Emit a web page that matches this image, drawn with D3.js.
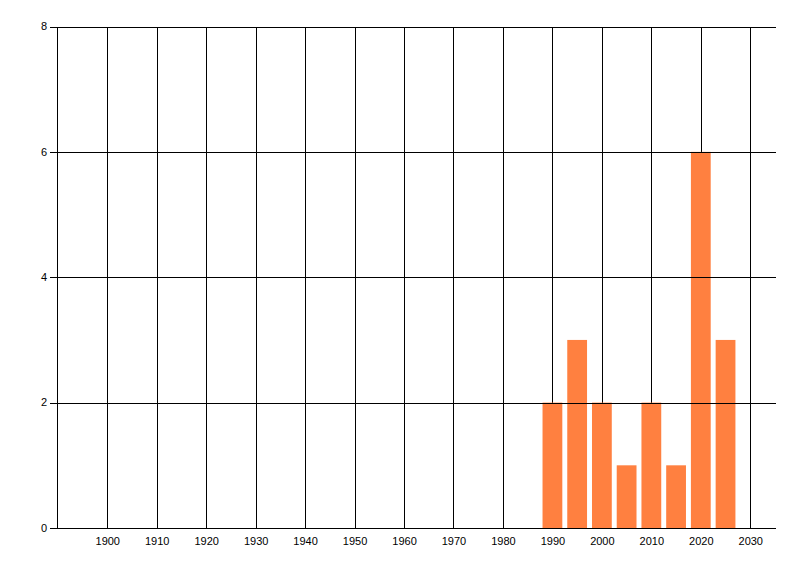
<!DOCTYPE html>
<html><head><meta charset="utf-8">
<script src="https://cdn.jsdelivr.net/npm/d3@7"></script>
<style>body{margin:0;background:#fff}svg{display:block}text{font-family:"Liberation Sans",Arial,sans-serif;font-size:11px;fill:#000}</style>
</head><body>
<svg id="c" width="800" height="576"></svg>
<script>
const years = [1990, 1995, 2000, 2005, 2010, 2015, 2020, 2025];
const counts = [2, 3, 2, 1, 2, 1, 6, 3];
const xTicks = [1900,1910,1920,1930,1940,1950,1960,1970,1980,1990,2000,2010,2020,2030];
const yTicks = [0, 2, 4, 6, 8];

const svg = d3.select("#c");
const x = d3.scaleLinear().domain([1890, 2035]).range([57.8, 775]);
const y = d3.scaleLinear().domain([0, 8]).range([528, 26.5]);

// vertical grid
svg.append("g").selectAll("line").data(xTicks).join("line")
  .attr("x1", d => Math.round(x(d)) + 0.5).attr("x2", d => Math.round(x(d)) + 0.5)
  .attr("y1", Math.round(y(8)) + 0.5).attr("y2", Math.round(y(0)) + 0.5)
  .attr("stroke", "#000");
// left axis line
svg.append("line").attr("x1", 57.5).attr("x2", 57.5)
  .attr("y1", Math.round(y(8)) + 0.5).attr("y2", Math.round(y(0)) + 0.5).attr("stroke", "#000");

// bars
svg.append("g").selectAll("rect").data(years).join("rect")
  .attr("x", (d) => x(d - 2)).attr("width", (d) => x(d + 2) - x(d - 2))
  .attr("y", (d, i) => y(counts[i])).attr("height", (d, i) => y(0) - y(counts[i]))
  .attr("fill", "#FF8040");

// horizontal grid + y ticks
svg.append("g").selectAll("line").data(yTicks).join("line")
  .attr("x1", 50).attr("x2", 776)
  .attr("y1", d => Math.round(y(d)) + 0.5).attr("y2", d => Math.round(y(d)) + 0.5)
  .attr("stroke", "#000");

svg.append("g").selectAll("text").data(yTicks).join("text")
  .attr("x", 47).attr("y", d => y(d)).attr("dy", "0.35em")
  .attr("text-anchor", "end").text(d => d);

svg.append("g").selectAll("text").data(xTicks).join("text")
  .attr("x", d => x(d) + 0.5).attr("y", 545)
  .attr("text-anchor", "middle").text(d => d);
</script>
</body></html>
